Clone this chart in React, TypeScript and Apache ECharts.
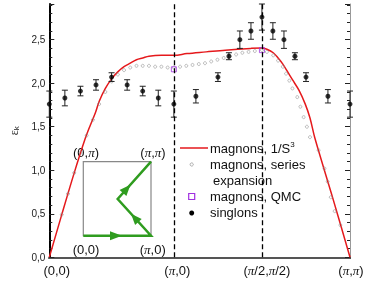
import React, { useEffect, useRef } from "react";
import * as echarts from "echarts";

// Path positions (units of π along Γ→X→M/2→M) and their labels
const pathTicks = [0, 1, 1.7071, 2.4142];
const pathTickLabels = ["(0,0)", "(π,0)", "(π/2,π/2)", "(π,π)"];
const pathLabelShift = [15, 7, 10, 2];
const yTicks = [0, 0.5, 1, 1.5, 2, 2.5];

// magnons, 1/S^3 (red line)
const magnonX = [0, 0.1, 0.2, 0.285, 0.33, 0.37, 0.4, 0.45, 0.5, 0.55, 0.6, 0.65, 0.7, 0.75, 0.8, 0.9, 1.0,
  1.105, 1.259, 1.413, 1.619, 1.7071, 1.747, 1.798, 1.837, 1.875, 1.914, 1.952, 2.004, 2.055, 2.093, 2.132, 2.28, 2.4142];
const magnonY = [0, 0.49, 0.97, 1.35, 1.52, 1.66, 1.79, 1.94, 2.05, 2.13, 2.19, 2.23, 2.27, 2.29, 2.31, 2.32, 2.32,
  2.34, 2.36, 2.38, 2.40, 2.405, 2.39, 2.35, 2.29, 2.22, 2.13, 2.04, 1.92, 1.76, 1.60, 1.37, 0.66, 0];

// magnons, series expansion (open circles)
const seriesX = [0.1, 0.15, 0.2, 0.25, 0.3, 0.35, 0.4, 0.45, 0.5, 0.55, 0.6, 0.65, 0.7, 0.75, 0.8, 0.85, 0.9, 0.95, 1.0,
  1.05, 1.1, 1.15, 1.2, 1.25, 1.3, 1.35, 1.4, 1.45, 1.5, 1.55, 1.6, 1.65, 1.7071,
  1.747, 1.798, 1.837, 1.875, 1.901, 1.927, 1.952, 1.991, 2.016, 2.042, 2.068, 2.093, 2.162, 2.209, 2.235, 2.26, 2.291, 2.337];
const seriesY = [0.49, 0.73, 0.97, 1.2, 1.4, 1.58, 1.76, 1.9, 2.02, 2.1, 2.15, 2.18, 2.2, 2.2, 2.2, 2.19, 2.19, 2.18, 2.18,
  2.19, 2.2, 2.21, 2.22, 2.23, 2.25, 2.27, 2.29, 2.31, 2.33, 2.35, 2.36, 2.37, 2.38,
  2.36, 2.32, 2.26, 2.19, 2.11, 2.03, 1.94, 1.84, 1.73, 1.61, 1.5, 1.38, 1.23, 1.02, 0.87, 0.69, 0.53, 0.37];

// magnons, QMC
const qmcX = [1.0, 1.7071];
const qmcY = [2.16, 2.38];

// singlons with error bars
const singlonX = [0, 0.125, 0.25, 0.375, 0.5, 0.625, 0.75, 0.875, 1.0, 1.177, 1.354, 1.442, 1.53, 1.619, 1.7071,
  1.795, 1.884, 1.972, 2.061, 2.237, 2.4142];
const singlonY = [1.76, 1.83, 1.91, 1.98, 2.07, 1.98, 1.91, 1.83, 1.76, 1.85, 2.07, 2.31, 2.5, 2.6, 2.76,
  2.6, 2.5, 2.31, 2.07, 1.85, 1.76];
const singlonErr = [0.15, 0.09, 0.055, 0.06, 0.05, 0.06, 0.055, 0.09, 0.15, 0.077, 0.05, 0.04, 0.1, 0.095, 0.15,
  0.095, 0.1, 0.04, 0.05, 0.077, 0.15];

const RED = "#e5191c";
const GREEN = "#2f9c1f";
const PURPLE = "#a030e0";
const SANS = '"Liberation Sans", Arial, sans-serif';
const SERIF = '"Liberation Serif", "Times New Roman", serif';

const piRich = (s: string) => s.replace(/π/g, "{p|π}");

export default function App() {
  const ref = useRef<HTMLDivElement>(null);
  useEffect(() => {
    if (!ref.current) return;
    const chart = echarts.init(ref.current, undefined, { renderer: "svg" });
    const XMAX = pathTicks[pathTicks.length - 1];
    const YMAX = 2.91;
    const yLabel = (v: number) => {
      const hit = yTicks.find((t) => Math.abs(t - v) < 1e-6);
      return hit === undefined ? "" : hit.toFixed(1).replace(".", ",");
    };
    const txt = (text: string, x: number, y: number, align = "left", rich?: any) => ({
      type: "text",
      x,
      y,
      silent: true,
      style: {
        text,
        fill: "#111",
        fontSize: 13,
        fontFamily: SANS,
        align,
        verticalAlign: "middle",
        rich,
      },
    });
    const piStyle = { p: { fontFamily: SERIF, fontStyle: "italic", fontSize: 13, fill: "#111" } };

    const option: any = {
      animation: false,
      textStyle: { fontFamily: SANS },
      grid: { left: 36.5, right: 17, top: 4, bottom: 23.7, containLabel: false },
      xAxis: [
        {
          type: "value",
          position: "bottom",
          min: 0,
          max: XMAX,
          axisLine: { show: true, lineStyle: { color: "#000", width: 2 } },
          axisTick: { show: false },
          splitLine: { show: false },
          axisLabel: {
            customValues: pathTicks,
            margin: 7,
            fontSize: 13,
            color: "#111",
            fontFamily: SANS,
            formatter: (v: number) => {
              const i = pathTicks.findIndex((t) => Math.abs(t - v) < 1e-3);
              if (i < 0) return "";
              return "{g" + i + "|}" + piRich(pathTickLabels[i]);
            },
            rich: {
              p: { fontFamily: SERIF, fontStyle: "italic", fontSize: 13, color: "#111" },
              g0: { width: pathLabelShift[0] },
              g1: { width: pathLabelShift[1] },
              g2: { width: pathLabelShift[2] },
              g3: { width: pathLabelShift[3] },
            },
          },
        },
        {
          type: "value",
          position: "top",
          min: 0,
          max: XMAX,
          axisLine: { show: true, lineStyle: { color: "#555", width: 2 } },
          axisTick: { show: false },
          axisLabel: { show: false },
          splitLine: { show: false },
        },
      ],
      yAxis: [
        {
          type: "value",
          position: "left",
          min: 0,
          max: YMAX,
          interval: 0.5,
          name: "{e|ε}{k|k}",
          nameLocation: "middle",
          nameGap: 25,
          nameRotate: 90,
          nameTextStyle: {
            rich: {
              e: { fontSize: 12, fontFamily: SERIF, color: "#222" },
              k: { fontSize: 8, fontFamily: SANS, color: "#222", verticalAlign: "bottom", padding: [5, 0, 0, 0] },
            },
          },
          axisLine: { show: true, lineStyle: { color: "#000", width: 2 } },
          axisTick: { show: true, inside: true, length: 5, lineStyle: { color: "#222", width: 1 } },
          axisLabel: { formatter: yLabel, fontSize: 10, color: "#222", margin: 4 },
          splitLine: { show: false },
        },
        {
          type: "value",
          position: "left",
          min: 0,
          max: YMAX,
          interval: 0.1,
          axisLine: { show: false },
          axisTick: { show: true, inside: true, length: 3, lineStyle: { color: "#222", width: 1 } },
          axisLabel: { show: false },
          splitLine: { show: false },
        },
        {
          type: "value",
          position: "right",
          min: 0,
          max: YMAX,
          interval: 0.5,
          axisLine: { show: true, lineStyle: { color: "#999", width: 1 } },
          axisTick: { show: true, inside: true, length: 5, lineStyle: { color: "#222", width: 1 } },
          axisLabel: { show: false },
          splitLine: { show: false },
        },
        {
          type: "value",
          position: "right",
          min: 0,
          max: YMAX,
          interval: 0.1,
          axisLine: { show: false },
          axisTick: { show: true, inside: true, length: 3, lineStyle: { color: "#222", width: 1 } },
          axisLabel: { show: false },
          splitLine: { show: false },
        },
      ],
      series: [
        {
          name: "magnons, 1/S³",
          type: "line",
          data: magnonX.map((x, i) => [x, magnonY[i]]),
          showSymbol: false,
          symbol: "none",
          smooth: 0.35,
          lineStyle: { color: RED, width: 1.5 },
          z: 2,
          markLine: {
            silent: true,
            symbol: ["none", "none"],
            label: { show: false },
            lineStyle: { type: [5, 3], color: "#000", width: 1.3 },
            data: [{ xAxis: pathTicks[1] }, { xAxis: pathTicks[2] }],
          },
        },
        {
          name: "magnons, series expansion",
          type: "scatter",
          data: seriesX.map((x, i) => [x, seriesY[i]]),
          symbol: "circle",
          symbolSize: 3,
          itemStyle: { color: "rgba(0,0,0,0)", borderColor: "#8a8a8a", borderWidth: 0.7 },
          z: 3,
        },
        {
          name: "magnons, QMC",
          type: "scatter",
          data: qmcX.map((x, i) => [x, qmcY[i]]),
          symbol: "rect",
          symbolSize: 5,
          itemStyle: { color: "rgba(0,0,0,0)", borderColor: PURPLE, borderWidth: 1 },
          z: 4,
        },
        {
          name: "singlons error",
          type: "custom",
          data: singlonX.map((x, i) => [x, singlonY[i], singlonErr[i]]),
          encode: { x: 0, y: 1 },
          silent: true,
          z: 4,
          renderItem: (params: any, api: any) => {
            const x = api.value(0);
            const y = api.value(1);
            const e = api.value(2);
            const hi = api.coord([x, y + e]);
            const lo = api.coord([x, y - e]);
            const cap = 3;
            const st = { stroke: "#222", lineWidth: 1 };
            return {
              type: "group",
              children: [
                { type: "line", shape: { x1: hi[0], y1: hi[1], x2: lo[0], y2: lo[1] }, style: st },
                { type: "line", shape: { x1: hi[0] - cap, y1: hi[1], x2: hi[0] + cap, y2: hi[1] }, style: st },
                { type: "line", shape: { x1: lo[0] - cap, y1: lo[1], x2: lo[0] + cap, y2: lo[1] }, style: st },
              ],
            };
          },
        },
        {
          name: "singlons",
          type: "scatter",
          data: singlonX.map((x, i) => [x, singlonY[i]]),
          symbol: "circle",
          symbolSize: 5,
          itemStyle: { color: "#000" },
          z: 5,
        },
      ],
      graphic: [
        // legend
        { type: "line", silent: true, shape: { x1: 180, y1: 148, x2: 208, y2: 148 }, style: { stroke: RED, lineWidth: 1.5 } },
        txt("{a|magnons, 1/S}{s|3}", 210, 148, "left", {
          a: { fontSize: 13, fontFamily: SANS, fill: "#111", lineHeight: 15 },
          s: { fontSize: 8, fontFamily: SANS, fill: "#111", verticalAlign: "top", lineHeight: 15 },
        }),
        { type: "circle", silent: true, shape: { cx: 191.7, cy: 164.5, r: 1.6 }, style: { fill: "none", stroke: "#8a8a8a", lineWidth: 0.7 } },
        txt("magnons, series", 210, 164),
        txt("expansion", 213, 180),
        { type: "rect", silent: true, shape: { x: 188.7, y: 193.5, width: 6, height: 6 }, style: { fill: "none", stroke: PURPLE, lineWidth: 1.2 } },
        txt("magnons, QMC", 210, 196),
        { type: "circle", silent: true, shape: { cx: 191.7, cy: 213, r: 2.5 }, style: { fill: "#000" } },
        txt("singlons", 210, 212),
        // inset Brillouin-zone path
        { type: "rect", silent: true, shape: { x: 83.3, y: 161.7, width: 67.7, height: 74 }, style: { fill: "none", stroke: "#888", lineWidth: 1.2 } },
        {
          type: "polyline",
          silent: true,
          shape: { points: [[83.3, 235.7], [151, 235.7], [117.7, 199], [151, 161.7]] },
          style: { fill: "none", stroke: GREEN, lineWidth: 2.5 },
        },
        { type: "polygon", silent: true, shape: { points: [[122, 235.7], [110, 231.2], [110, 240.2]] }, style: { fill: GREEN } },
        { type: "polygon", silent: true, shape: { points: [[131, 213.7], [141.7, 219.1], [135.1, 225.1]] }, style: { fill: GREEN } },
        { type: "polygon", silent: true, shape: { points: [[130.4, 184.8], [126.4, 196.0], [119.6, 190.0]] }, style: { fill: GREEN } },
        txt(piRich("(0,π)"), 86, 152, "center", piStyle),
        txt(piRich("(π,π)"), 153, 152, "center", piStyle),
        txt("(0,0)", 86, 249, "center"),
        txt(piRich("(π,0)"), 152.7, 249, "center", piStyle),
      ],
    };
    chart.setOption(option);
    return () => chart.dispose();
  }, []);
  return <div ref={ref} style={{ position: "fixed", left: 0, top: 0, width: 367, height: 281 }} />;
}
